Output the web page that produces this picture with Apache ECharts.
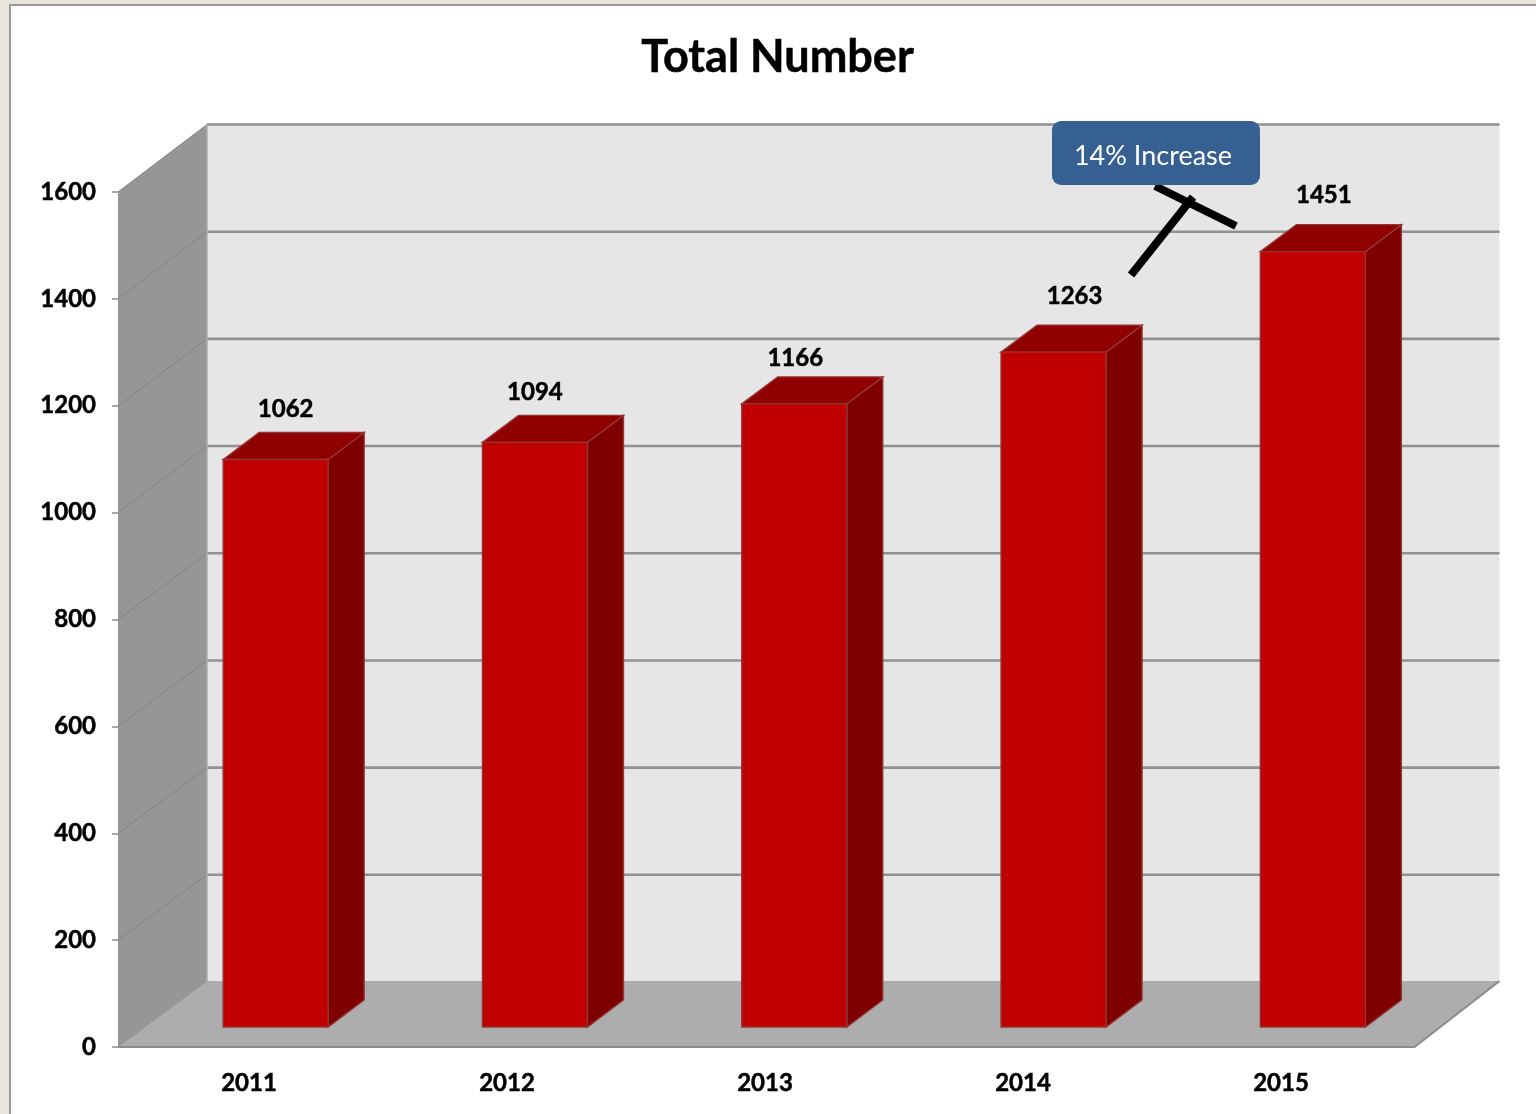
<!DOCTYPE html>
<html>
<head>
<meta charset="utf-8">
<title>Total Number</title>
<script src="https://cdn.jsdelivr.net/npm/echarts@6/dist/echarts.min.js"></script>
<style>
  html, body { margin: 0; padding: 0; background: #e9e6de; }
  #chart { width: 1536px; height: 1114px; }
</style>
</head>
<body>
<div id="chart"></div>
<script>
// Yearly totals
const categories = ['2011', '2012', '2013', '2014', '2015'];
const totals = [1062, 1094, 1166, 1263, 1451];
const wallTicks = [0, 200, 400, 600, 800, 1000, 1200, 1400, 1600];

// Hand-placed value labels: shift from the centre of each bar's front face
const labelShiftX = [10, 0, 1, 21, 11];
const labelShiftY = [-50, -50, -46, -56, -56];

// Oblique projection of the chart box and of the columns
const BOX_DX = 89, BOX_RISE = 65, BOX_STRETCH = 857.5 / 855, FLOOR_DX = 85;
const BAR_DX = 36, BAR_DY = -27;
const BAR_WIDTH = 105;
const BAR_SHIFT_X = 28, BAR_SHIFT_Y = -20;

const FONT = 'Lato, "Open Sans", sans-serif';

// Bold labels share one faint outline so the strokes read at full weight
const heavyText = { textBorderColor: '#000', textBorderWidth: 0.5 };

function renderChamber(params, api) {
  const cs = params.coordSys;
  const x0 = cs.x, x1 = cs.x + cs.width;
  const yBase = api.coord([0, 0])[1];
  const yTop = api.coord([0, 1600])[1];
  const backX = x0 + BOX_DX, endX = x1 + FLOOR_DX;
  const wallY = function (y) { return yBase - BOX_RISE + (y - yBase) * BOX_STRETCH; };
  const floorY = wallY(yBase) - 1;
  const children = [
    { type: 'polygon', shape: { points: [[x0, yBase], [backX, floorY], [backX, wallY(yTop)], [x0, yTop]] },
      style: { fill: '#969696' } },
    { type: 'rect', shape: { x: backX, y: wallY(yTop), width: endX - backX, height: floorY - wallY(yTop) },
      style: { fill: '#e6e6e6' } },
    { type: 'polygon', shape: { points: [[x0, yBase], [backX, floorY], [endX, floorY], [x1, yBase]] },
      style: { fill: '#adadad' } }
  ];
  wallTicks.forEach(function (v) {
    if (v === 0) return;
    const y = api.coord([0, v])[1];
    children.push({ type: 'line', shape: { x1: x0, y1: y, x2: backX, y2: wallY(y) },
      style: { stroke: '#858585', lineWidth: 1 } });
    children.push({ type: 'line', shape: { x1: backX, y1: wallY(y), x2: endX, y2: wallY(y) },
      style: { stroke: '#919191', lineWidth: 2.6 } });
  });
  children.push({ type: 'line', shape: { x1: backX, y1: wallY(yTop), x2: backX, y2: floorY },
    style: { stroke: '#acacac', lineWidth: 1.5 } });
  children.push({ type: 'line', shape: { x1: x0, y1: yBase, x2: backX, y2: floorY },
    style: { stroke: '#959595', lineWidth: 1 } });
  children.push({ type: 'polyline', shape: { points: [[x0, yBase], [x1, yBase], [endX, floorY]] },
    style: { stroke: '#8c8c8c', lineWidth: 2.2, fill: 'none' } });
  return { type: 'group', children: children };
}

function renderColumn(params, api) {
  const i = api.value(0);
  const v = api.value(1);
  const top = api.coord([i, v]);
  const base = api.coord([i, 0]);
  const left = top[0] + BAR_SHIFT_X - BAR_WIDTH / 2;
  const right = left + BAR_WIDTH;
  const yTop = top[1] + BAR_SHIFT_Y;
  const yBot = base[1] + BAR_SHIFT_Y;
  const edge = '#953434';
  return {
    type: 'group',
    children: [
      { type: 'polygon', shape: { points: [[right, yTop], [right + BAR_DX, yTop + BAR_DY], [right + BAR_DX, yBot + BAR_DY], [right, yBot]] },
        style: { fill: '#7f0000', stroke: edge, lineWidth: 1.4 } },
      { type: 'polygon', shape: { points: [[left, yTop], [left + BAR_DX, yTop + BAR_DY], [right + BAR_DX, yTop + BAR_DY], [right, yTop]] },
        style: { fill: '#900000', stroke: edge, lineWidth: 1.4 } },
      { type: 'rect', shape: { x: left, y: yTop, width: BAR_WIDTH, height: yBot - yTop },
        style: { fill: '#c00000', stroke: edge, lineWidth: 1.4 } },
      { type: 'text', style: Object.assign({
          text: String(v),
          x: left + BAR_WIDTH / 2 + labelShiftX[i],
          y: yTop + labelShiftY[i],
          align: 'center', verticalAlign: 'middle',
          fill: '#000', font: 'bold 24px ' + FONT }, { stroke: '#000', lineWidth: 0.5 }) }
    ]
  };
}

const chart = echarts.init(document.getElementById('chart'), null, { renderer: 'canvas' });
chart.setOption({
  animation: false,
  backgroundColor: 'transparent',
  title: {
    text: 'Total Number',
    left: 772.5, top: 52, textAlign: 'center', textVerticalAlign: 'middle',
    textStyle: Object.assign({ fontFamily: FONT, fontWeight: 'bold', fontSize: 45, color: '#000' }, heavyText)
  },
  grid: [
    { left: 118, top: 192, width: 1296.5, height: 855 },
    { left: 120, top: 192, width: 1290, height: 855 }
  ],
  xAxis: [
    { type: 'category', gridIndex: 0, data: categories, axisLabel: { show: false }, axisLine: { show: false }, axisTick: { show: false } },
    { type: 'category', gridIndex: 1, data: categories, axisLine: { show: false }, axisTick: { show: false },
      axisLabel: Object.assign({ margin: 24, color: '#000', fontFamily: FONT, fontWeight: 'bold', fontSize: 24 }, heavyText) }
  ],
  yAxis: [
    { type: 'value', gridIndex: 0, min: 0, max: 1600, interval: 200,
      splitLine: { show: false },
      axisLine: { show: true, lineStyle: { color: '#a0a0a0', width: 1 } },
      axisTick: { show: true, length: 6, lineStyle: { color: '#8a8a8a', width: 1.5 } },
      axisLabel: Object.assign({ margin: 22, color: '#000', fontFamily: FONT, fontWeight: 'bold', fontSize: 24,
        padding: [6, 0, 0, 0], formatter: function (v) { return String(v); } }, heavyText) },
    { type: 'value', gridIndex: 1, min: 0, max: 1600, show: false, splitLine: { show: false } }
  ],
  series: [
    { type: 'custom', name: 'chamber', xAxisIndex: 0, yAxisIndex: 0, z: 1, silent: true, clip: false,
      renderItem: renderChamber, data: [[0, 0]] },
    { type: 'custom', name: 'Total Number', xAxisIndex: 0, yAxisIndex: 0, z: 3, silent: true, clip: false,
      renderItem: renderColumn, encode: { x: 0, y: 1 },
      data: totals.map(function (v, i) { return [i, v]; }) }
  ],
  graphic: [
    // Slide panel
    { type: 'rect', z: -10, shape: { x: 10, y: 5, width: 1600, height: 1200 },
      style: { fill: '#ffffff', stroke: '#989898', lineWidth: 2 } },
    // Callout: crossed strokes and the rounded box above them
    { type: 'line', z: 40, shape: { x1: 1155, y1: 186, x2: 1236, y2: 226 }, style: { stroke: '#000', lineWidth: 8 } },
    { type: 'line', z: 40, shape: { x1: 1131, y1: 275, x2: 1193, y2: 197 }, style: { stroke: '#000', lineWidth: 8 } },
    { type: 'rect', z: 41, shape: { x: 1052, y: 121, width: 208, height: 64, r: 9 }, style: { fill: '#376092' } },
    { type: 'text', z: 42, style: { text: '14% Increase', x: 1153, y: 156, align: 'center', verticalAlign: 'middle',
        fill: '#fff', font: '27px ' + FONT } }
  ]
});
</script>
</body>
</html>
